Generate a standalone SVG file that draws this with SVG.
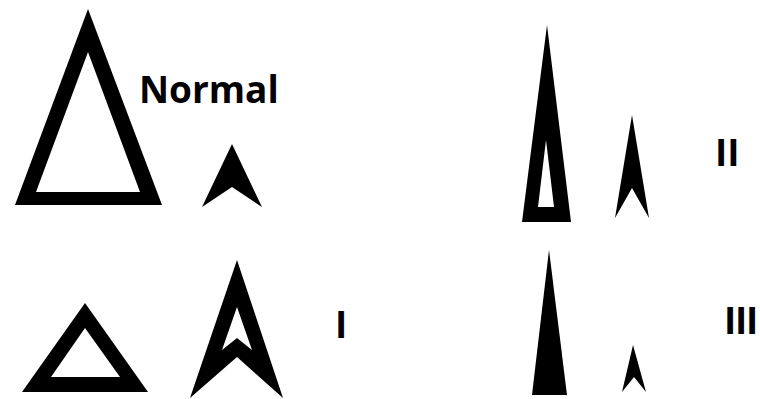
<svg xmlns="http://www.w3.org/2000/svg" width="760" height="399" viewBox="0 0 760 399">
<style>
.s{fill:#000;fill-rule:evenodd;stroke:none}
.t{font-family:"Open Sans","Liberation Sans",sans-serif;font-weight:bold;font-size:37px;fill:#000}
</style>
<rect width="760" height="399" fill="#fff"/>
<g id="normal-big"><path class="s" d="M88,9 L162,205 L15,205 Z M88,52 L36,192 L140,192 Z"/></g>
<g id="normal-small"><path class="s" d="M232,144 L262,207 L232,187 L202,207 Z"/></g>
<text class="t" x="139" y="103">Normal</text>
<g id="i-big"><path class="s" d="M85,303 L148,392 L22,392 Z M85,328 L51,377 L120,377 Z"/></g>
<g id="i-small"><path class="s" d="M237,260 L283,398 L237,357 L190,398 Z M237,307 L222,350 L237,338 L252,350 Z"/></g>
<text class="t" x="335" y="338">I</text>
<g id="ii-big"><path class="s" d="M547,25 L571,222 L522,222 Z M546,140 L538,207 L554,207 Z"/></g>
<g id="ii-small"><path class="s" d="M632,115 L649,218 L632,188 L615,218 Z"/></g>
<text class="t" x="715" y="166">II</text>
<g id="iii-big"><path class="s" d="M549,250 L567,395 L532,395 Z"/></g>
<g id="iii-small"><path class="s" d="M633,345 L646,392 L634,377 L622,392 Z"/></g>
<text class="t" x="724" y="334" letter-spacing="-1.3">III</text>
</svg>
